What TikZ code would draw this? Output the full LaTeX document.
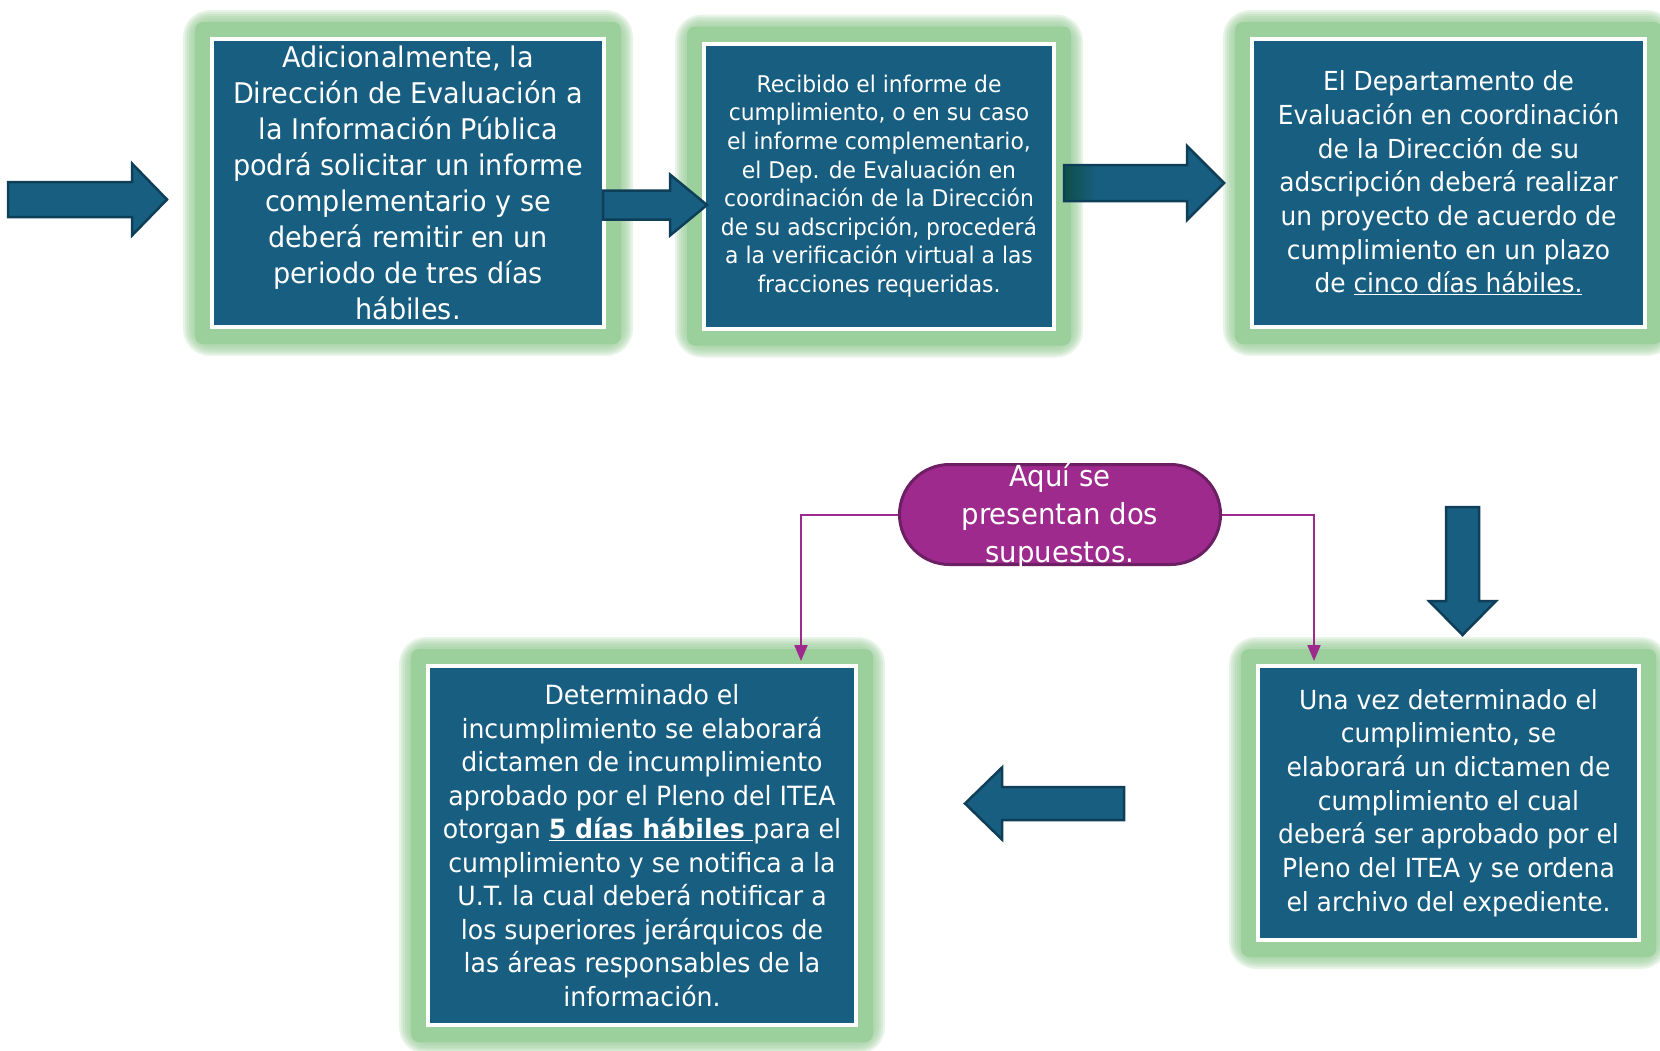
\documentclass[tikz,border=0pt]{standalone}
\usepackage{fontspec}
\newfontfamily\tah[FakeStretch=0.95]{DejaVu Sans}
\usetikzlibrary{arrows.meta,calc,backgrounds}
\definecolor{boxc}{HTML}{185E80}
\definecolor{arrd}{HTML}{0F3F58}
\definecolor{arrg}{HTML}{0E4F48}
\definecolor{glowc}{HTML}{9BCF9B}
\definecolor{pillc}{HTML}{9E2A8E}
\definecolor{pilld}{HTML}{6C1F63}
\pgfdeclarehorizontalshading{arrsh}{100bp}{color(0bp)=(arrg); color(25bp)=(arrg); color(35bp)=(boxc); color(100bp)=(boxc)}
\newcommand\glowof[1]{%
  \foreach \d in {27,25,...,17}{\fill[glowc,opacity=0.22,rounded corners=\d pt] ($(#1.south west)+(-\d pt,-\d pt)$) rectangle ($(#1.north east)+(\d pt,\d pt)$);}
  \fill[glowc,rounded corners=8pt] ($(#1.south west)+(-15pt,-15pt)$) rectangle ($(#1.north east)+(15pt,15pt)$);}
% [style] tail x, tip x, centre y, shaft half, head half, head base x
\newcommand\harrow[7][]{%
  \filldraw[barrow,#1] ({#2},{#4-#5}) -- ({#7},{#4-#5}) -- ({#7},{#4-#6}) -- ({#3},{#4}) -- ({#7},{#4+#6}) -- ({#7},{#4+#5}) -- ({#2},{#4+#5}) -- cycle;}
% centre x, top y, tip y, shaft half, head half, head base y
\newcommand\varrow[6]{%
  \filldraw[barrow] ({#1-#4},{#2}) -- ({#1-#4},{#6}) -- ({#1-#5},{#6}) -- ({#1},{#3}) -- ({#1+#5},{#6}) -- ({#1+#4},{#6}) -- ({#1+#4},{#2}) -- cycle;}
\tikzset{
  box/.style={draw=white, line width=4pt, fill=boxc, inner sep=0pt, align=center, text=white},
  barrow/.style={fill=boxc, draw=arrd, line width=2.5pt, line join=miter},
  pill/.style={draw=pilld, fill=pillc, line width=3pt, rounded corners=50pt, minimum width=321pt, minimum height=100pt, inner sep=0pt},
  pilltext/.style={text=white, align=center, inner sep=0pt, font=\tah\fontsize{29}{38}\selectfont},
  conn/.style={draw=pillc, line width=2pt, -{Triangle[width=13pt,length=16pt]}}
}
\begin{document}
\begin{tikzpicture}[x=1pt,y=-1pt]
\useasboundingbox (0,0) rectangle (1660,1050);

\node[box, minimum width=392pt, minimum height=288pt, font=\tah\fontsize{28.5}{36}\selectfont] (b1) at (408,183)
  {Adicionalmente, la\\Dirección de Evaluación a\\la Información Pública\\podrá solicitar un informe\\complementario y se\\deberá remitir en un\\periodo de tres días\\hábiles.};
\node[box, minimum width=350pt, minimum height=285pt, font=\tah\fontsize{23}{28.6}\selectfont] (b2) at (879,186)
  {Recibido el informe de\\cumplimiento, o en su caso\\el informe complementario,\\el Dep. de Evaluación en\\coordinación de la Dirección\\de su adscripción, procederá\\a la verificación virtual a las\\fracciones requeridas.};
\node[box, minimum width=393pt, minimum height=288pt, font=\tah\fontsize{26.2}{33.7}\selectfont] (b3) at (1448.5,183)
  {El Departamento de\\Evaluación en coordinación\\de la Dirección de su\\adscripción deberá realizar\\un proyecto de acuerdo de\\cumplimiento en un plazo\\de \underline{cinco días hábiles.}};
\node[box, minimum width=428pt, minimum height=359pt, font=\tah\fontsize{26.5}{33.5}\selectfont] (b4) at (642,845.5)
  {Determinado el\\incumplimiento se elaborará\\dictamen de incumplimiento\\aprobado por el Pleno del ITEA\\otorgan \underline{\textbf{5 días hábiles\ }}para el\\cumplimiento y se notifica a la\\U.T. la cual deberá notificar a\\los superiores jerárquicos de\\las áreas responsables de la\\información.};
\node[box, minimum width=381pt, minimum height=274pt, font=\tah\fontsize{26.3}{33.7}\selectfont] (b5) at (1448.5,803)
  {Una vez determinado el\\cumplimiento, se\\elaborará un dictamen de\\cumplimiento el cual\\deberá ser aprobado por el\\Pleno del ITEA y se ordena\\el archivo del expediente.};

\begin{scope}[on background layer]
  \fill[white] (0,0) rectangle (1660,1050);
  \begin{scope}
    \clip (0,0) rectangle (1660,1050);
    \glowof{b1}\glowof{b2}\glowof{b3}\glowof{b4}\glowof{b5}
  \end{scope}
\end{scope}

\harrow{8}{167}{199.5}{17.5}{36}{132}
\harrow{603}{707}{205}{14.5}{30.5}{670}
\harrow[shading=arrsh]{1064}{1224}{183}{18}{37}{1187}
\harrow{1124}{965}{803.5}{16.5}{36}{1002}
\varrow{1462.5}{507}{635}{16.5}{33.5}{601}

\node[pill] (p) at (1060,514.5) {};
\node[pilltext] (pt) at (1060,516) {Aquí se\\presentan dos\\supuestos.};

\draw[conn] (p.west) -| ([xshift=375pt,yshift=3pt]b4.north west);
\draw[conn] (p.east) -| ([xshift=58pt,yshift=3pt]b5.north west);
\end{tikzpicture}
\end{document}
